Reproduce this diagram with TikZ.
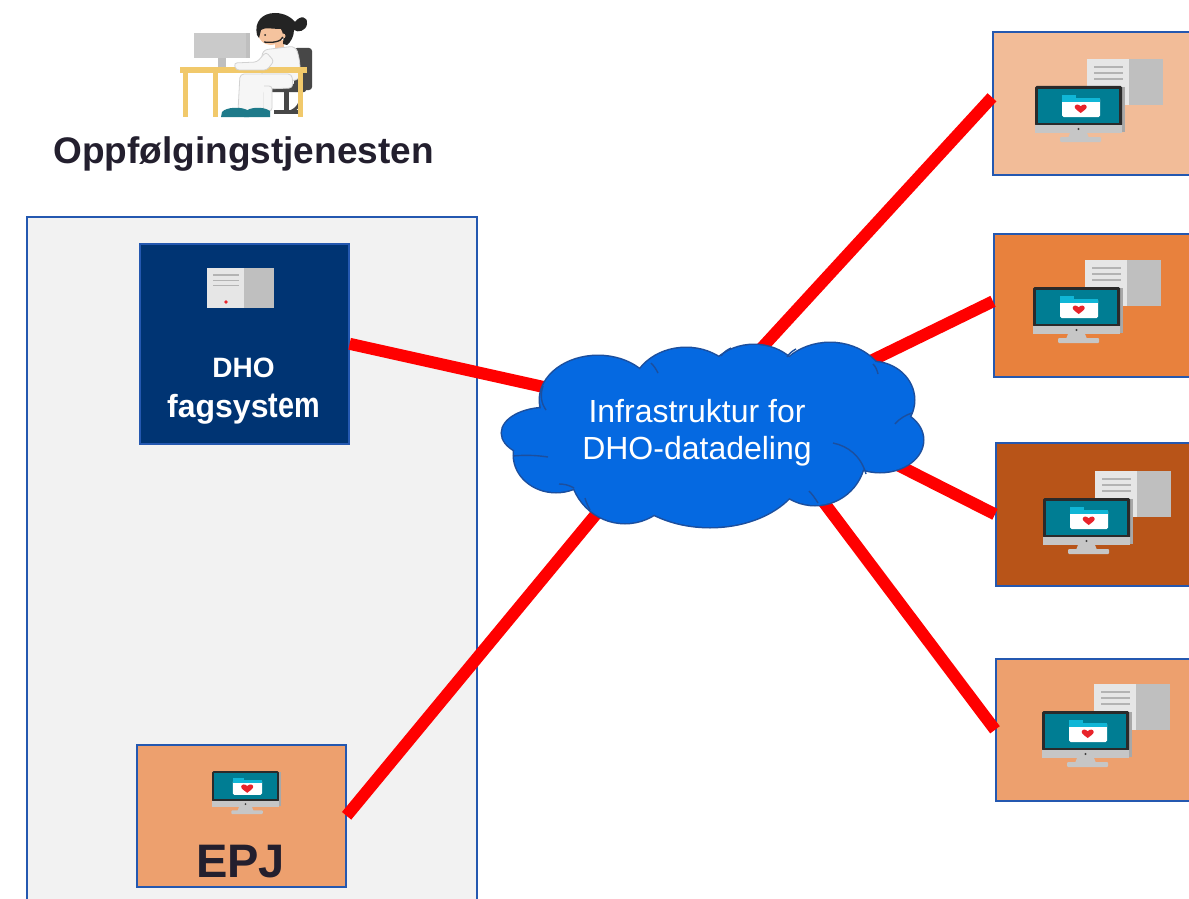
\documentclass[tikz,border=0pt]{standalone}
\usepackage{graphicx}
\usepackage{fontspec}
\setmainfont{Liberation Sans}

\definecolor{panelgray}{HTML}{F2F2F2}
\definecolor{edgeblue}{HTML}{2458B0}
\definecolor{navy}{HTML}{003473}
\definecolor{cloudblue}{HTML}{0569E1}
\definecolor{cloudedge}{HTML}{1C4F9E}
\definecolor{linkred}{HTML}{FF0000}
\definecolor{peachA}{HTML}{F2BC98}
\definecolor{orangeB}{HTML}{E8813D}
\definecolor{rustC}{HTML}{B85418}
\definecolor{salmonD}{HTML}{EDA06E}
\definecolor{titleink}{HTML}{231F2E}
\definecolor{screenteal}{HTML}{007D93}
\definecolor{foldercyan}{HTML}{10B6D6}
\definecolor{bezel}{HTML}{2A2A2A}
\definecolor{chingray}{HTML}{C6C6C6}
\definecolor{shadowgray}{HTML}{A8A8A8}
\definecolor{srvlight}{HTML}{E6E6E6}
\definecolor{srvdark}{HTML}{BFBFBF}
\definecolor{srvline}{HTML}{B3B3B3}
\definecolor{heartred}{HTML}{E8232A}
\definecolor{desktan}{HTML}{F1C96B}
\definecolor{chairgray}{HTML}{474747}
\definecolor{skin}{HTML}{F5C39E}
\definecolor{hair}{HTML}{242424}
\definecolor{shoeteal}{HTML}{1E7A8A}
\definecolor{clothwhite}{HTML}{F6F6F6}
\definecolor{clothline}{HTML}{D2D2D2}

\tikzset{
  sysbox/.style={rectangle, draw=edgeblue, line width=1.6pt, inner sep=0pt, anchor=north west},
  link/.style={draw=linkred, line width=12pt},
  cloudarc/.style={draw=cloudedge, line width=1.4pt},
  cloth/.style={fill=clothwhite, draw=clothline, line width=0.8pt},
  heart/.pic={
    \fill[heartred] (0,4.5) .. controls (-2.5,2.5) and (-6,0.5) .. (-6,-1.5)
      .. controls (-6,-4) and (-2.5,-5) .. (0,-2.3)
      .. controls (2.5,-5) and (6,-4) .. (6,-1.5)
      .. controls (6,0.5) and (2.5,2.5) .. (0,4.5) -- cycle;
  },
  srvicon/.pic={
    \fill[srvlight] (0,0) rectangle (42,46);
    \fill[srvdark] (42,0) rectangle (76,46);
    \foreach \yy in {8,14,20} \draw[srvline, line width=1.6pt] (7,\yy) -- (36,\yy);
  },
  moniicon/.pic={
    \fill[shadowgray] (84,1) rectangle (90,46);
    \fill[bezel, rounded corners=1.5pt] (0,0) rectangle (87,40);
    \fill[screenteal] (3,3) rectangle (84,37);
    \fill[chingray] (0,39) rectangle (87,47);
    \fill[black!75] (43.5,43) circle (1.2);
    \fill[chingray] (35,47) -- (52,47) -- (54,52) -- (33,52) -- cycle;
    \fill[chingray, rounded corners=1pt] (25,51) rectangle (66,56);
    \fill[white, rounded corners=1.5pt] (27,12) rectangle (65,31);
    \fill[foldercyan] (27,9) rectangle (41,13);
    \fill[foldercyan] (27,12) rectangle (65,16);
    \pic at (45.7,22.5) {heart};
  },
  pcicon/.pic={
    \pic at (52,-27) {srvicon};
    \pic at (0,0) {moniicon};
  },
}

\begin{document}
\begin{tikzpicture}[x=1pt, y=-1pt]
\useasboundingbox (0,0) rectangle (1189,899);
\fill[white] (0,0) rectangle (1189,899);

% operator at her desk
\fill[chairgray, rounded corners=3pt] (294,48) rectangle (312,90);
\fill[chairgray, rounded corners=2pt] (268,84) rectangle (306,92);
\fill[chairgray] (284,92) rectangle (289,110);
\draw[chairgray, line width=3pt] (300,90) .. controls (302,100) and (300,108) .. (290,112);
\fill[chairgray] (274,110) rectangle (300,114);
\fill[srvlight!88!black] (194,33) rectangle (246,58);
\fill[srvdark] (246,33) rectangle (250,58);
\fill[srvdark] (218,58) rectangle (226,68);
\fill[skin] (275,40) rectangle (284,49);
\filldraw[cloth, rounded corners=6pt]
  (262,50) -- (296,46) -- (300,62) -- (300,80) -- (262,82) -- cycle;
\filldraw[cloth, rounded corners=4pt]
  (240,74) -- (292,74) -- (293,88) -- (264,89) -- (264,111) -- (238,111) -- cycle;
\filldraw[cloth, rounded corners=3pt]
  (264,86) -- (272,86) -- (272,111) -- (264,111);
\fill[desktan] (180,67) rectangle (307,73);
\fill[desktan] (183,73) rectangle (188,117);
\fill[desktan] (213,73) rectangle (218,117);
\fill[desktan] (298,73) rectangle (303,117);
\fill[shoeteal] (221,117) -- (222,112) .. controls (226,107) and (242,106) .. (249,111) -- (249,117) -- cycle;
\fill[shoeteal] (244,117) -- (245,112) .. controls (249,107) and (263,106) .. (270,111) -- (270,117) -- cycle;
\filldraw[cloth, rounded corners=3pt]
  (266,52) -- (274,61) -- (267,70) -- (236,70) -- (234,63) -- (257,62) -- cycle;
\fill[skin] (271,34) ellipse (12.5 and 11);
\fill[hair] (257,35) .. controls (254,22) and (262,13) .. (275,13)
  .. controls (285,13) and (292,18) .. (295,22)
  .. controls (300,15) and (308,16) .. (307,24)
  .. controls (306,31) and (298,33) .. (294,30)
  .. controls (294,36) and (291,42) .. (287,45)
  -- (283,44) .. controls (284,38) and (283,32) .. (281,29)
  .. controls (273,29) and (264,27) .. (261,30)
  -- (259,38) -- cycle;
\fill[skin] (283,36) circle (2.5);
\fill[hair] (265,35) circle (1);
\draw[hair, line width=1.3pt] (283,37) .. controls (281,42) and (272,43) .. (264,42);

\node[font=\bfseries\fontsize{37}{37}\selectfont, text=titleink, anchor=base] (title) at (243.5,163) {Oppfølgingstjenesten};

% the follow-up service's own systems
\node[sysbox, fill=panelgray, minimum width=450pt, minimum height=720pt] (panel) at (26,216) {};
\node[sysbox, fill=navy, minimum width=209pt, minimum height=200pt] (dho) at (139,243) {};
\pic[scale=0.88] at (207,268) {srvicon};
\fill[heartred] (226,302) circle (1.8);
\node[text=white, font=\bfseries\fontsize{28}{28}\selectfont, anchor=base] (dholabel) at (243.5,377) {DHO};
\node[text=white, font=\bfseries\fontsize{32}{32}\selectfont, anchor=base] (dhosub) at (243.5,417)
  {fagsys\fontsize{36}{36}\selectfont\scalebox{0.8}[1]{tem}};

\node[sysbox, fill=salmonD, minimum width=209pt, minimum height=142pt] (epj) at (136,744) {};
\pic[scale=0.77] at (212,771) {moniicon};
\node[text=titleink, font=\bfseries\fontsize{47}{47}\selectfont, anchor=base] (epjlabel) at (240.5,877) {EPJ};

% partner systems
\node[sysbox, fill=peachA, minimum width=220pt, minimum height=143pt] (boxA) at (992,31) {};
\node[sysbox, fill=orangeB, minimum width=220pt, minimum height=143pt] (boxB) at (993,233) {};
\node[sysbox, fill=rustC, minimum width=220pt, minimum height=143pt] (boxC) at (995,442) {};
\node[sysbox, fill=salmonD, minimum width=220pt, minimum height=142pt] (boxD) at (995,658) {};
\pic at (1035,86) {pcicon};
\pic at (1033,287) {pcicon};
\pic at (1043,498) {pcicon};
\pic at (1042,711) {pcicon};

% links, running in under the cloud
\coordinate (inDho) at (584,396);
\coordinate (inEpj) at (621,484);
\coordinate (inA) at (736,376);
\coordinate (inB) at (842,375);
\coordinate (inC) at (862,447);
\coordinate (inD) at (798,468);
\draw[link] (dho.east) -- (inDho);
\draw[link] (epj.east) -- (inEpj);
\draw[link] ([yshift=6pt]boxA.west) -- (inA);
\draw[link] ([yshift=4pt]boxB.west) -- (inB);
\draw[link] (boxC.west) -- (inC);
\draw[link] (boxD.west) -- (inD);

% cloud: union of overlapping puffs, outlined only on the outside
\def\puffs{598/400/58/44, 686/395/55/47, 754/392/52/47, 830/393/58/50,
  872/400/42/38, 880/440/43/32, 815/455/50/50, 710/462/95/65,
  625/467/55/56, 556/455/42/37, 547/433/45/25, 712/432/160/60}
\foreach \cx/\cy/\rx/\ry in \puffs
  \draw[cloudedge, line width=3pt] (\cx,\cy) ellipse (\rx pt and \ry pt);
\foreach \cx/\cy/\rx/\ry in \puffs
  \fill[cloudblue] (\cx,\cy) ellipse (\rx pt and \ry pt);
\draw[cloudarc] (543,386) .. controls (540,395) and (541,403) .. (546,410);
\draw[cloudarc] (651,363) .. controls (654,366) and (656,369) .. (658,373);
\draw[cloudarc] (721,356) .. controls (724,352) and (727,350) .. (731,348);
\draw[cloudarc] (787,357) .. controls (789,354) and (792,351) .. (796,349);
\draw[cloudarc] (873,364) .. controls (876,367) and (877,370) .. (878,374);
\draw[cloudarc] (895,424) .. controls (900,418) and (906,415) .. (912,413);
\draw[cloudarc] (833,443) .. controls (848,446) and (861,456) .. (866,474);
\draw[cloudarc] (818,503) .. controls (815,498) and (812,494) .. (809,491);
\draw[cloudarc] (590,510) .. controls (588,506) and (586,502) .. (585,498);
\draw[cloudarc] (574,488) .. controls (569,485) and (564,484) .. (559,484);
\draw[cloudarc] (548,457) .. controls (535,455) and (523,455) .. (513,456);
\node[text=white, font=\fontsize{32}{37}\selectfont, align=center] (cloudlabel) at (697,433)
  {Infrastruktur for\\DHO-datadeling};
\end{tikzpicture}
\end{document}
